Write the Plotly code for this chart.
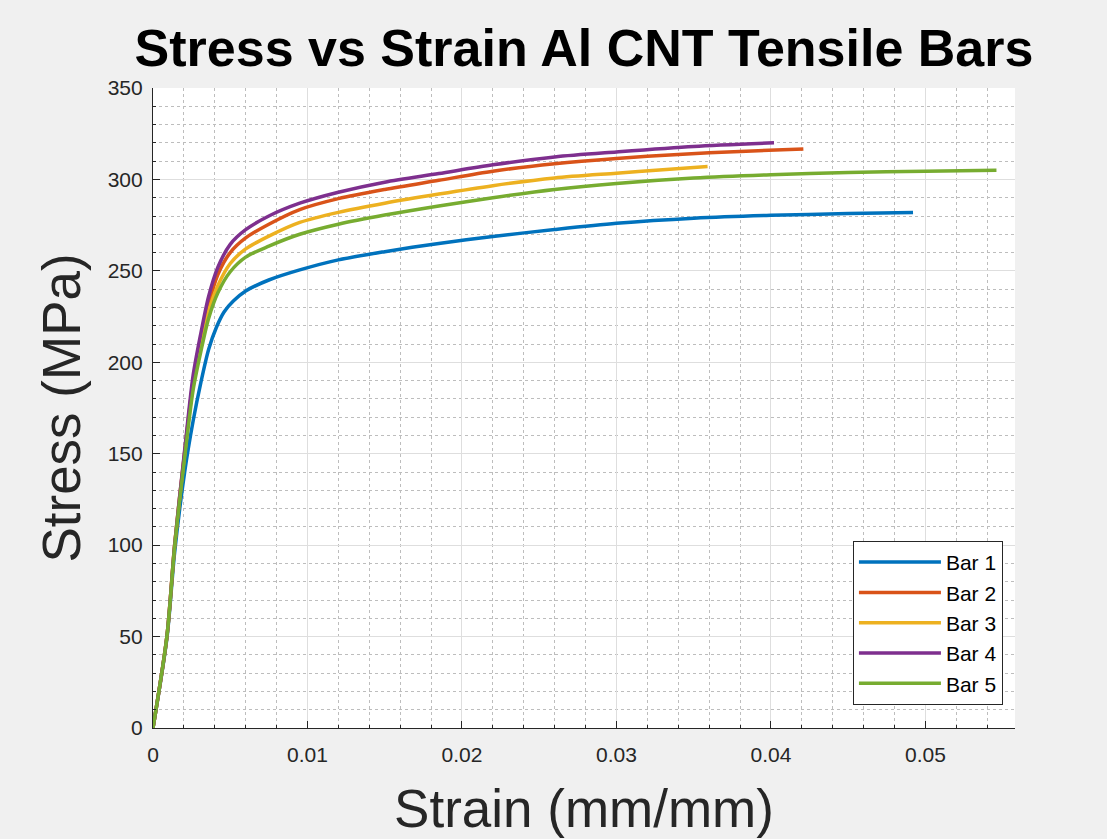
import plotly.graph_objects as go

# ---------------- data ----------------
bar1_strain = [0, 0.0009, 0.0014, 0.00205, 0.0026, 0.0031, 0.0036, 0.0041, 0.0046, 0.0052, 0.0060, 0.0075,
               0.0095, 0.012, 0.015, 0.0185, 0.022, 0.026, 0.030, 0.035, 0.040, 0.045, 0.0492]
bar1_stress = [0, 49, 96, 140, 168, 189, 207, 219, 227.5, 233.5, 239, 245,
               250.5, 256, 260.5, 265, 268.8, 272.6, 276, 278.8, 280.4, 281.3, 281.9]

bar2_strain = [0, 0.0009, 0.0014, 0.00205, 0.0026, 0.0031, 0.0036, 0.0042, 0.0050, 0.0060, 0.0075,
               0.0095, 0.012, 0.015, 0.0185, 0.022, 0.026, 0.030, 0.034, 0.038, 0.0421]
bar2_stress = [0, 50, 100, 151, 190, 214, 232, 248, 260, 268, 275.5,
               283.5, 289.5, 294.5, 299.5, 304.5, 308.6, 311.5, 313.7, 315.3, 316.7]

bar3_strain = [0, 0.0009, 0.0014, 0.00205, 0.0026, 0.0031, 0.0036, 0.0042, 0.0050, 0.0060, 0.0075,
               0.0095, 0.012, 0.015, 0.0185, 0.022, 0.026, 0.030, 0.033, 0.0359]
bar3_stress = [0, 50, 100, 150, 188, 211, 228, 242, 254, 262, 269,
               276.5, 282, 287, 292, 296.6, 300.8, 303.4, 305.3, 307.1]

bar4_strain = [0, 0.0009, 0.0014, 0.00205, 0.0026, 0.0031, 0.0036, 0.0042, 0.0050, 0.0060, 0.0075,
               0.0095, 0.012, 0.015, 0.0185, 0.022, 0.026, 0.030, 0.035, 0.0402]
bar4_stress = [0, 50, 100, 152, 193, 216, 236, 252, 264.5, 272.5, 280,
               287, 293, 298.5, 303.2, 308, 312.3, 315, 318, 320]

bar5_strain = [0, 0.0009, 0.0014, 0.00205, 0.0026, 0.0031, 0.0036, 0.0042, 0.0050, 0.0060, 0.0075,
               0.0095, 0.012, 0.015, 0.0185, 0.022, 0.026, 0.030, 0.035, 0.040, 0.045, 0.050, 0.0546]
bar5_stress = [0, 50, 99, 148, 185, 206, 224, 238, 249.5, 257.5, 263.5,
               270, 275.5, 280.5, 285.5, 290, 294.5, 297.8, 300.8, 302.6, 303.8, 304.5, 305.0]

series_names = ["Bar 1", "Bar 2", "Bar 3", "Bar 4", "Bar 5"]
series_colors = ["#0072BD", "#D95319", "#EDB120", "#7E2F8E", "#77AC30"]

x_ticks = [0, 0.01, 0.02, 0.03, 0.04, 0.05]
x_tick_labels = ["0", "0.01", "0.02", "0.03", "0.04", "0.05"]
y_ticks = [0, 50, 100, 150, 200, 250, 300, 350]

# ---------------- figure ----------------
FONT = "Liberation Sans, Arial, Helvetica, sans-serif"
fig = go.Figure()
all_x = [bar1_strain, bar2_strain, bar3_strain, bar4_strain, bar5_strain]
all_y = [bar1_stress, bar2_stress, bar3_stress, bar4_stress, bar5_stress]
for i, (xs, ys) in enumerate(zip(all_x, all_y)):
    fig.add_trace(go.Scatter(
        x=xs, y=ys, mode="lines", name=series_names[i],
        line=dict(color=series_colors[i], width=3.5, shape="spline", smoothing=0.8),
    ))

axis_common = dict(
    showline=True, linecolor="#262626", linewidth=1.2, mirror=False,
    ticks="inside", ticklen=7, tickcolor="#262626", tickwidth=1.2,
    showgrid=True, gridcolor="#dedede", gridwidth=1,
    zeroline=False,
    tickfont=dict(family=FONT, size=21, color="#262626"),
    title_font=dict(family=FONT, size=53, color="#262626"),
)

fig.update_xaxes(
    range=[0, 0.0558], tickvals=x_ticks, ticktext=x_tick_labels,
    title_text="Strain (mm/mm)", title_standoff=24, ticklabelstandoff=8,
    minor=dict(dtick=0.002, tick0=0, showgrid=True, gridcolor="#bdbdbd",
               griddash="dot", gridwidth=1, ticks="inside", ticklen=3,
               tickcolor="#262626"),
    **axis_common,
)
fig.update_yaxes(
    range=[0, 350], tickvals=y_ticks,
    title_text="Stress (MPa)", title_standoff=10, ticklabelstandoff=5,
    minor=dict(dtick=10, tick0=0, showgrid=True, gridcolor="#bdbdbd",
               griddash="dot", gridwidth=1, ticks="inside", ticklen=3,
               tickcolor="#262626"),
    **axis_common,
)

fig.update_layout(
    width=1107, height=839,
    margin=dict(l=153, r=92, t=88, b=111),
    paper_bgcolor="#f0f0f0", plot_bgcolor="white",
    title=dict(text="<b>Stress vs Strain Al CNT Tensile Bars</b>",
               font=dict(family=FONT, size=52, color="black"),
               x=0.5, xref="paper", xanchor="center",
               y=1 - 48 / 839, yref="container", yanchor="middle"),
    legend=dict(x=0.986, y=0.036, xanchor="right", yanchor="bottom",
                bgcolor="white", bordercolor="#262626", borderwidth=1,
                font=dict(family=FONT, size=21, color="black"),
                itemwidth=82),
    showlegend=True,
)

fig.write_html("out.html")
